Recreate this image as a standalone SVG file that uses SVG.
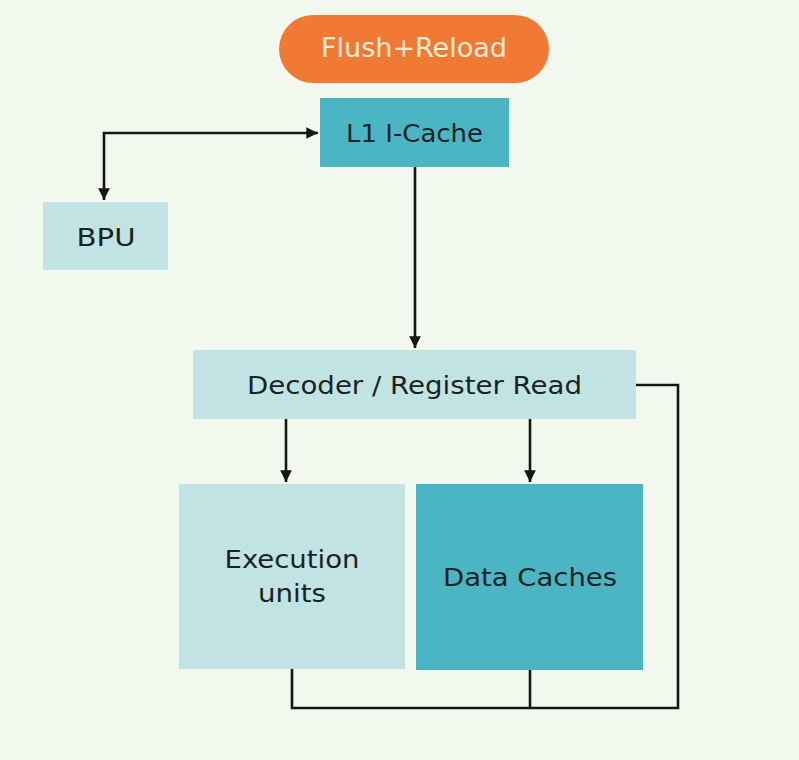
<svg xmlns="http://www.w3.org/2000/svg" width="799" height="760" viewBox="0 0 799 760">
<defs>
<marker id="ah" viewBox="0 0 10 10" refX="10" refY="5" markerWidth="4.5" markerHeight="4.5" orient="auto-start-reverse" markerUnits="strokeWidth">
<path d="M0,0 L10,5 L0,10 z" fill="#151515"/>
</marker>
<style>
.lbl{font-family:"DejaVu Sans","Open Sans",sans-serif;font-size:25px;fill:#1a2324;text-anchor:middle}
.line{fill:none;stroke:#151515;stroke-width:2.6}
.light{fill:#c2e3e3}
.dark{fill:#4cb5c4}
</style>
</defs>
<rect width="799" height="760" fill="#f3f8ee"/>
<g id="flush-reload">
<rect x="279" y="15" width="270" height="68" rx="34" fill="#f07a33"/>
<text class="lbl" x="414" y="57" style="fill:#fcecd9;font-size:26px" textLength="186" lengthAdjust="spacingAndGlyphs">Flush+Reload</text>
</g>
<g id="l1-icache">
<rect class="dark" x="320" y="98" width="189" height="69"/>
<text class="lbl" x="414.5" y="142" textLength="137" lengthAdjust="spacingAndGlyphs">L1 I-Cache</text>
</g>
<g id="bpu">
<rect class="light" x="43" y="202" width="125" height="68"/>
<text class="lbl" x="106" y="246" textLength="59" lengthAdjust="spacingAndGlyphs">BPU</text>
</g>
<g id="decoder">
<rect class="light" x="193" y="350" width="443" height="69"/>
<text class="lbl" x="414.5" y="394" textLength="335" lengthAdjust="spacingAndGlyphs">Decoder / Register Read</text>
</g>
<g id="execution-units">
<rect class="light" x="179" y="484" width="226" height="185"/>
<text class="lbl" x="292" y="568" textLength="135" lengthAdjust="spacingAndGlyphs">Execution</text>
<text class="lbl" x="292" y="602" textLength="68" lengthAdjust="spacingAndGlyphs">units</text>
</g>
<g id="data-caches">
<rect class="dark" x="416" y="484" width="227" height="186"/>
<text class="lbl" x="530" y="586" textLength="174" lengthAdjust="spacingAndGlyphs">Data Caches</text>
</g>
<g id="connectors">
<path class="line" d="M318,133 H104 V200" marker-start="url(#ah)" marker-end="url(#ah)"/>
<path class="line" d="M415,167 V348" marker-end="url(#ah)"/>
<path class="line" d="M286,419 V482" marker-end="url(#ah)"/>
<path class="line" d="M530,419 V482" marker-end="url(#ah)"/>
<path class="line" d="M636,385 H678 V708 H292 V669"/>
<path class="line" d="M530,670 V708"/>
</g>
</svg>
